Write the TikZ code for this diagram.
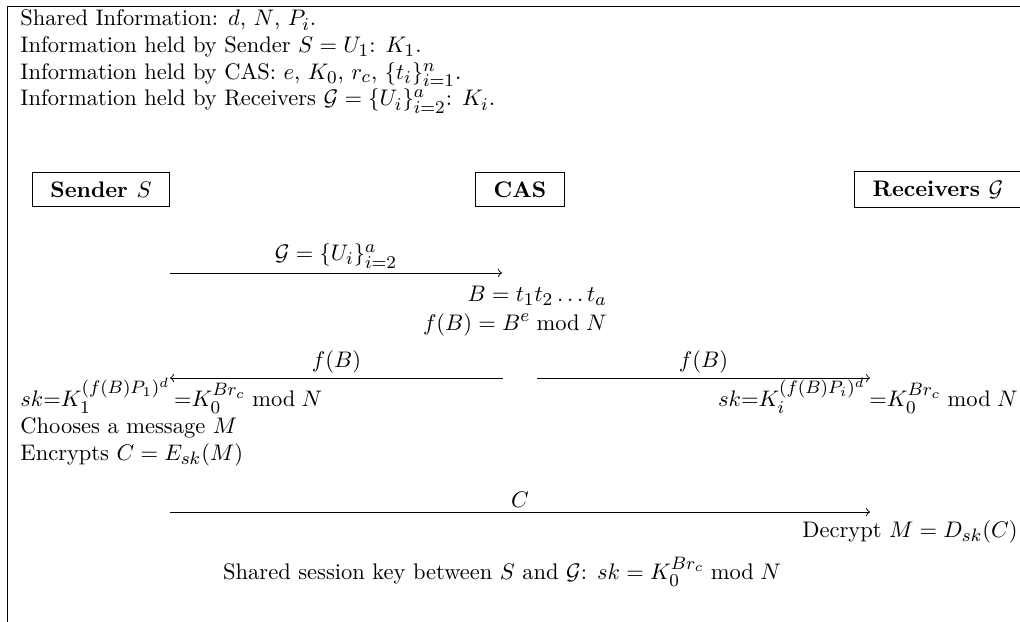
\documentclass[tikz,border=0pt]{standalone}
\usepackage{amsmath,amssymb}
\usepackage{tikz}
\usetikzlibrary{positioning}
\DeclareMathSizes{10}{10}{8}{6}

\tikzset{
  party/.style={draw,font=\bfseries,inner xsep=8pt,inner ysep=4pt},
  msg/.style={above,inner sep=2pt}
}

\begin{document}
\begin{tikzpicture}[x=0.4444pt,y=-0.4444pt]
  \useasboundingbox (0,0) rectangle (1020,622);
  \clip (0,0) rectangle (1020,622);
  \draw (1030,6) -- (7,6) -- (7,630);
  \foreach \i/\y/\txt in {1/26/{Shared Information: $d$, $N$, $P_i$.},
      2/52.7/{Information held by Sender $S=U_1$: $K_1$.},
      3/79.4/{Information held by CAS: $e$, $K_0$, $r_c$, $\{t_i\}_{i=1}^n$.},
      4/106/{Information held by Receivers $\mathcal{G}=\{U_i\}_{i=2}^a$: $K_i$.}}{
    \node[anchor=base west,inner sep=0pt] (info\i) at (20,\y) {\txt};
  }
  \node[party] (sender) at (101,189.5) {Sender $S$};
  \node[party] (cas) at (520,189.5) {CAS};
  \node[party] (recv) at (938,189.5) {Receivers $\mathcal{G}$};
  \coordinate (g1) at (170,273);
  \coordinate (g2) at (502,273);
  \draw[->] (g1) -- node[msg] {$\mathcal{G}=\{U_i\}_{i=2}^a$} (g2);
  \node[anchor=base east,inner sep=0pt] (bdef) at (607,302) {$B=t_1t_2\ldots t_a$};
  \node[anchor=base east,inner sep=0pt] (fdef) at (607,330) {$f(B)=B^e \bmod N$};
  \coordinate (fl1) at (503,378);
  \coordinate (fl2) at (170,378);
  \coordinate (fr1) at (537,378);
  \coordinate (fr2) at (870,378);
  \draw[->] (fl1) -- node[msg] {$f(B)$} (fl2);
  \draw[->] (fr1) -- node[msg] {$f(B)$} (fr2);
  \node[anchor=base west,inner sep=0pt] (sks) at (20,406)
    {$sk{=}K_1^{(f(B)P_1)^d}\,{=}K_0^{Br_c} \bmod N$};
  \node[anchor=base east,inner sep=0pt] (skr) at (1018,406)
    {$sk{=}K_i^{(f(B)P_i)^d}\,{=}K_0^{Br_c} \bmod N$};
  \node[anchor=base west,inner sep=0pt] (choose) at (20,433) {Chooses a message $M$};
  \node[anchor=base west,inner sep=0pt] (enc) at (20,460) {Encrypts $C=E_{sk}(M)$};
  \coordinate (c1) at (170,512);
  \coordinate (c2) at (870,512);
  \draw[->] (c1) -- node[msg] {$C$} (c2);
  \node[anchor=base east,inner sep=0pt] (dec) at (1018,537) {Decrypt $M=D_{sk}(C)$};
  \node[anchor=base,inner sep=0pt] (key) at (502,579)
    {Shared session key between $S$ and $\mathcal{G}$: $sk=K_0^{Br_c} \bmod N$};
\end{tikzpicture}
\end{document}
